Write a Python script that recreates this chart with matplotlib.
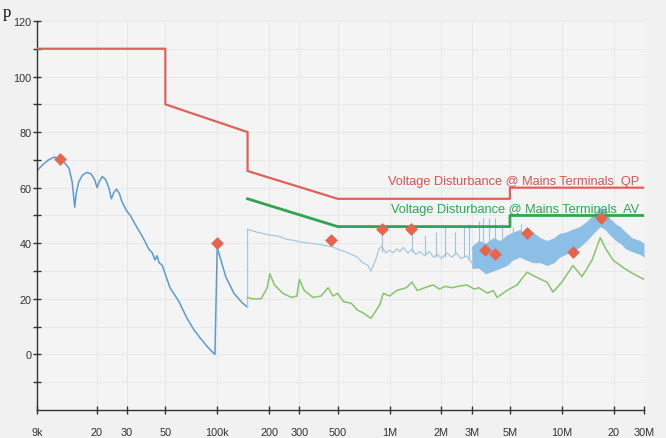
import matplotlib
matplotlib.use("Agg")
import matplotlib.pyplot as plt

# ---------------- data ----------------
# limit lines (dBuV)
qp_freq = [9e3, 50e3, 50e3, 150e3, 150e3, 500e3, 5e6, 5e6, 30e6]
qp_level = [110, 110, 90, 80, 66, 56, 56, 60, 60]
av_freq = [150e3, 500e3, 5e6, 5e6, 30e6]
av_level = [56, 46, 46, 50, 50]

# peak trace, low frequency part
pk_lo_freq = [9.0e3, 9.6e3, 10.5e3, 11.3e3, 12.2e3, 13.0e3, 13.8e3, 14.4e3, 14.9e3, 15.2e3,
              15.7e3, 16.5e3, 17.5e3, 18.5e3, 19.4e3, 20.1e3, 20.6e3, 21.5e3, 22.5e3, 23.5e3,
              24.3e3, 25.0e3, 26.0e3, 27.0e3, 28.0e3, 29.9e3, 31.3e3, 34e3, 37.1e3, 40e3,
              42e3, 43.5e3, 44.7e3, 46e3, 48e3, 53.2e3, 60e3, 66.8e3, 73e3, 79.5e3,
              87e3, 93.3e3, 97e3, 100e3, 105e3, 112e3, 125e3, 140e3, 150e3]
pk_lo_val = [66, 68, 70, 71, 70.5, 69, 67, 62, 53, 58,
             62, 64.5, 65.5, 65, 63, 60, 62, 64, 63, 60,
             56, 58, 59.5, 58, 55, 51.5, 50, 46, 42, 38,
             36.5, 34, 35.5, 33, 32, 24, 19, 13, 9, 6,
             3, 1, 0, 38.5, 34, 28, 22, 18.5, 17]

# peak trace, 150 kHz - 3 MHz
pk_mid_freq = [150e3, 150e3, 170e3, 200e3, 230e3, 250e3, 280e3, 300e3, 350e3, 400e3,
               470e3, 520e3, 550e3, 600e3, 650e3, 700e3, 750e3, 780e3, 830e3, 870e3,
               900e3, 950e3, 1.0e6, 1.05e6, 1.1e6, 1.15e6, 1.2e6, 1.28e6, 1.35e6, 1.42e6,
               1.5e6, 1.6e6, 1.7e6, 1.8e6, 1.9e6, 2.0e6, 2.15e6, 2.3e6, 2.45e6, 2.6e6,
               2.8e6, 3.0e6]
pk_mid_val = [17, 45, 44, 43, 42.5, 41.5, 41, 40.5, 40, 39.5,
              38.6, 37.5, 37, 36, 35, 33, 32, 30, 34, 38,
              39, 36.5, 37.5, 36.5, 38, 37, 38.5, 36.5, 38, 36,
              37, 35.5, 37, 35, 36, 34.5, 36.5, 35, 36.5, 34.5,
              35.5, 33]

# peak trace, 3 - 30 MHz envelope
band_freq = [3.0e6, 3.3e6, 3.6e6, 4.0e6, 4.4e6, 4.8e6, 5.2e6, 5.7e6, 6.2e6, 6.8e6,
             7.5e6, 8.2e6, 9.0e6, 9.7e6, 10.5e6, 11.5e6, 12.7e6, 14e6, 15.5e6, 16.7e6,
             17.8e6, 19e6, 20.5e6, 21.8e6, 23.5e6, 25.5e6, 28.4e6, 30e6]
band_upper = [39, 41, 40, 42, 41, 43, 44, 45, 43, 44,
              42, 41, 42, 43.6, 44, 45, 46, 48, 51, 53,
              52, 49, 47, 46, 44, 42, 41, 40]
band_lower = [31, 31, 29, 30, 31, 32, 34, 35, 34, 33,
              33, 32, 33, 35, 36, 37, 38.6, 41, 44, 46,
              45, 43, 41, 40, 38, 37, 36, 35]

# narrow spikes on the peak trace
spike_freq = [0.9e6, 1.35e6, 1.6e6, 1.85e6, 2.1e6, 2.4e6, 2.7e6, 2.9e6, 3.3e6, 3.5e6,
              3.8e6, 4.1e6, 4.5e6, 5.2e6, 5.8e6]
spike_base = [37, 37, 36, 35, 35, 36, 35, 34, 34, 33, 33, 32, 33, 35, 36]
spike_top = [45, 45, 43, 44, 46, 44, 46, 47, 48, 49, 49, 49, 47, 46, 47]

# average trace
av_tr_freq = [150e3, 160e3, 180e3, 195e3, 202e3, 215e3, 240e3, 270e3, 290e3, 300e3,
              320e3, 360e3, 400e3, 440e3, 470e3, 500e3, 540e3, 600e3, 650e3, 700e3,
              780e3, 820e3, 880e3, 920e3, 1.0e6, 1.1e6, 1.25e6, 1.35e6, 1.45e6, 1.6e6,
              1.79e6, 1.95e6, 2.1e6, 2.3e6, 2.5e6, 2.82e6, 3.1e6, 3.3e6, 3.7e6, 4.0e6,
              4.21e6, 4.8e6, 5.5e6, 6.28e6, 7e6, 8.2e6, 8.9e6, 10e6, 11.6e6, 13.1e6,
              15e6, 16.7e6, 18e6, 19.8e6, 23e6, 26e6, 30e6]
av_tr_val = [20.5, 20, 20, 24, 29, 25, 22, 20.5, 21, 27,
             23, 20.5, 21, 24, 21, 22, 19, 18.4, 16, 15,
             13, 15, 18, 22, 21, 23, 24, 26, 23, 24,
             25, 23.5, 24.5, 24, 24.5, 25, 23.5, 24, 22, 23,
             20.5, 23, 25, 29.6, 28, 26, 22.4, 26, 32, 28,
             34, 42, 38, 34, 31, 29, 27]

# final measurement points
mk_freq = [12.2e3, 100e3, 457e3, 904e3, 1.33e6, 3.6e6, 4.1e6, 6.3e6, 11.6e6, 16.9e6]
mk_val = [70.4, 40, 41, 45, 45, 37.5, 36, 43.7, 36.8, 49]

xticks = [9e3, 20e3, 30e3, 50e3, 100e3, 200e3, 300e3, 500e3, 1e6, 2e6, 3e6, 5e6, 10e6, 20e6, 30e6]
xtick_labels = ["9k", "20", "30", "50", "100k", "200", "300", "500", "1M", "2M", "3M", "5M", "10M", "20", "30M"]
yticks_major = [0, 20, 40, 60, 80, 100, 120]

qp_label = "Voltage Disturbance @ Mains Terminals  QP"
av_label = "Voltage Disturbance @ Mains Terminals  AV"

# ---------------- drawing ----------------
plt.rcParams['font.family'] = ['Liberation Sans', 'DejaVu Sans']

fig = plt.figure(figsize=(6.66, 4.39), dpi=100, facecolor='#f1f1f1')
ax = fig.add_axes([0.0556, 0.0638, 0.9114, 0.8862])
ax.set_facecolor('#f4f4f4')
ax.set_xscale('log')
ax.set_xlim(9e3, 3e7)
ax.set_ylim(-20, 120)

# grid
for xt in xticks:
    ax.axvline(xt, color='#e4e4e4', lw=0.6, zorder=0)
for yt in range(-10, 121, 10):
    ax.axhline(yt, color='#e8e8e8', lw=0.6, zorder=0)

# limits
ax.plot(qp_freq, qp_level, color='#e0605a', lw=1.6, zorder=3)
ax.plot(av_freq, av_level, color='#2fa552', lw=2.0, zorder=3)

# traces
ax.plot(pk_lo_freq, pk_lo_val, color='#5a9bd2', lw=1.1, zorder=2)
ax.plot(pk_mid_freq, pk_mid_val, color='#a9c8e0', lw=0.9, zorder=2)
ax.vlines(spike_freq, spike_base, spike_top, color='#9cc2e2', lw=0.8, zorder=2)
ax.fill_between(band_freq, band_lower, band_upper, color='#8cbfe6', lw=0, zorder=2)
ax.plot(av_tr_freq, av_tr_val, color='#86c46e', lw=1.1, zorder=2)

# markers
ax.scatter(mk_freq, mk_val, marker='D', s=42, color='#e8644f', zorder=5, lw=0)

# limit labels
ax.text(2.8e7, 60.3, qp_label, color='#d9534f', fontsize=9.2, ha='right', va='bottom', zorder=4)
ax.text(2.8e7, 50.3, av_label, color='#2fa552', fontsize=9.2, ha='right', va='bottom', zorder=4)

# axes styling
for s in ['top', 'right']:
    ax.spines[s].set_visible(False)
for s in ['left', 'bottom']:
    ax.spines[s].set_color('#333333')
    ax.spines[s].set_linewidth(1.0)

ax.set_xticks(xticks)
ax.set_xticklabels(xtick_labels)
ax.xaxis.set_minor_locator(matplotlib.ticker.NullLocator())
ax.set_yticks(range(-10, 121, 10))
ax.set_yticklabels([str(v) if v in yticks_major else "" for v in range(-10, 121, 10)])
ax.tick_params(axis='both', direction='inout', length=6, width=1.0, color='#333333',
               labelsize=7.8, labelcolor='#333333')
ax.tick_params(axis='x', pad=9)
ax.tick_params(axis='y', pad=1)

# caption letter at top
fig.text(0.004, 0.962, "p", family='Liberation Serif', fontsize=12, color='#111111',
         va='baseline', ha='left')

fig.savefig("out.png", dpi=100, facecolor=fig.get_facecolor())
